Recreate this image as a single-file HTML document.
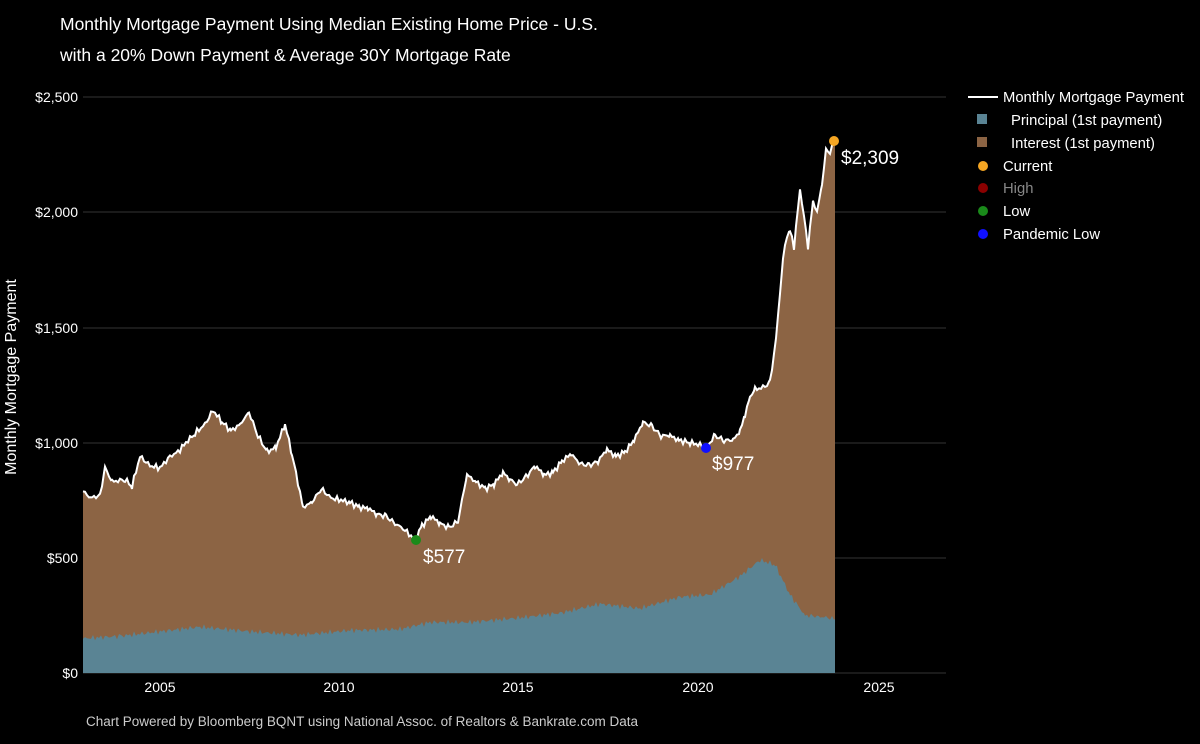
<!DOCTYPE html>
<html><head><meta charset="utf-8"><style>
body{margin:0;background:#000;width:1200px;height:739px;overflow:hidden;font-family:"Liberation Sans",sans-serif;color:#fff}
</style></head><body>
<svg width="1200" height="739" xmlns="http://www.w3.org/2000/svg" font-family="Liberation Sans, sans-serif">
<text x="60" y="30" fill="#fff" font-size="17.5">Monthly Mortgage Payment Using Median Existing Home Price - U.S.</text>
<text x="60" y="61" fill="#fff" font-size="17.5">with a 20% Down Payment &amp; Average 30Y Mortgage Rate</text>
<g stroke="#333" stroke-width="1">
<line x1="83" x2="946" y1="97" y2="97"/><line x1="83" x2="946" y1="212" y2="212"/>
<line x1="83" x2="946" y1="328" y2="328"/><line x1="83" x2="946" y1="443" y2="443"/>
<line x1="83" x2="946" y1="558" y2="558"/><line x1="83" x2="946" y1="673" y2="673"/>
</g>
<g fill="#fff" font-size="14" text-anchor="end">
<text x="78" y="102">$2,500</text><text x="78" y="217">$2,000</text><text x="78" y="333">$1,500</text>
<text x="78" y="448">$1,000</text><text x="78" y="563">$500</text><text x="78" y="678">$0</text>
</g>
<g fill="#fff" font-size="14" text-anchor="middle">
<text x="160" y="692">2005</text><text x="339" y="692">2010</text><text x="518" y="692">2015</text>
<text x="698" y="692">2020</text><text x="879" y="692">2025</text>
</g>
<text transform="translate(16,377) rotate(-90)" fill="#fff" font-size="16" text-anchor="middle">Monthly Mortgage Payment</text>
<path id="tot" fill="#8c6444"/>
<path id="pri" fill="#5a8494"/>
<polyline id="line" fill="none" stroke="#fff" stroke-width="2"/>
<circle cx="416" cy="540" r="5" fill="#1a8a1a"/>
<circle cx="706" cy="448" r="5" fill="#1010ff"/>
<circle cx="834" cy="141" r="5" fill="#f5a623"/>
<text x="423" y="563" fill="#fff" font-size="19">$577</text>
<text x="712" y="470" fill="#fff" font-size="19">$977</text>
<text x="841" y="164" fill="#fff" font-size="19">$2,309</text>
<g font-size="14.8" fill="#fff">
<line x1="968" x2="998" y1="97" y2="97" stroke="#fff" stroke-width="2"/>
<text x="1003" y="102">Monthly Mortgage Payment</text>
<rect x="977" y="114" width="10" height="10" fill="#5a8494"/><text x="1011" y="125">Principal (1st payment)</text>
<rect x="977" y="137" width="10" height="10" fill="#8c6444"/><text x="1011" y="148">Interest (1st payment)</text>
<circle cx="983" cy="166" r="5" fill="#f5a623"/><text x="1003" y="171">Current</text>
<circle cx="983" cy="188" r="5" fill="#8b0000"/><text x="1003" y="193" fill="#888">High</text>
<circle cx="983" cy="211" r="5" fill="#1a8a1a"/><text x="1003" y="216">Low</text>
<circle cx="983" cy="234" r="5" fill="#1010ff"/><text x="1003" y="239">Pandemic Low</text>
</g>
<text x="86" y="726" fill="#ccc" font-size="13.5">Chart Powered by Bloomberg BQNT using National Assoc. of Realtors &amp; Bankrate.com Data</text>
</svg>
<script>
var T=[[83,790],[90,760],[100,770],[105,890],[112,830],[125,840],[132,810],[140,940],[150,900],[160,890],[170,940],[178,960],[186,1000],[195,1040],[205,1080],[213,1140],[222,1090],[231,1050],[240,1080],[249,1130],[258,1030],[267,960],[276,980],[285,1080],[292,950],[303,720],[312,740],[321,800],[331,760],[341,750],[350,740],[359,720],[368,715],[377,690],[386,680],[395,650],[405,620],[415,577],[422,640],[431,680],[440,650],[449,630],[458,660],[467,860],[476,830],[485,800],[494,820],[503,870],[510,840],[517,820],[526,850],[535,900],[544,860],[553,870],[562,920],[571,950],[580,910],[589,900],[598,920],[607,970],[616,940],[625,960],[634,1010],[643,1090],[652,1070],[661,1030],[670,1030],[679,1010],[690,1000],[700,990],[706,977],[715,1030],[724,1010],[733,1010],[740,1050],[745,1120],[750,1200],[755,1230],[763,1240],[770,1260],[776,1450],[783,1800],[787,1900],[790,1920],[794,1850],[800,2100],[804,1980],[808,1850],[813,2050],[817,2000],[822,2120],[826,2270],[830,2260],[835,2309]];
var P=[[83,150],[120,160],[160,180],[200,200],[250,180],[300,165],[350,185],[400,190],[430,220],[470,220],[520,240],[560,260],[600,300],[640,280],[680,330],[710,340],[740,420],[760,490],[775,470],[790,340],[805,250],[820,245],[835,235]];
function y(v){return 673-v*0.2304}
function jit(a){var o=[];for(var i=0;i<a.length-1;i++){var x0=a[i][0],v0=a[i][1],x1=a[i+1][0],v1=a[i+1][1];for(var x=x0;x<x1;x+=2){var t=(x-x0)/(x1-x0);var v=v0+(v1-v0)*t+Math.sin(x*1.7)*8+Math.sin(x*0.9)*6;o.push([x,v]);}}o.push(a[a.length-1]);return o}
function path(a){var s="M83,673";a.forEach(function(p){s+=" L"+p[0]+","+y(p[1]).toFixed(1)});return s+" L835,673Z"}
var t=jit(T),p=jit(P);
document.getElementById("tot").setAttribute("d",path(t));
document.getElementById("pri").setAttribute("d",path(p));
document.getElementById("line").setAttribute("points",t.map(function(q){return q[0]+","+y(q[1]).toFixed(1)}).join(" "));
</script>
</body></html>
